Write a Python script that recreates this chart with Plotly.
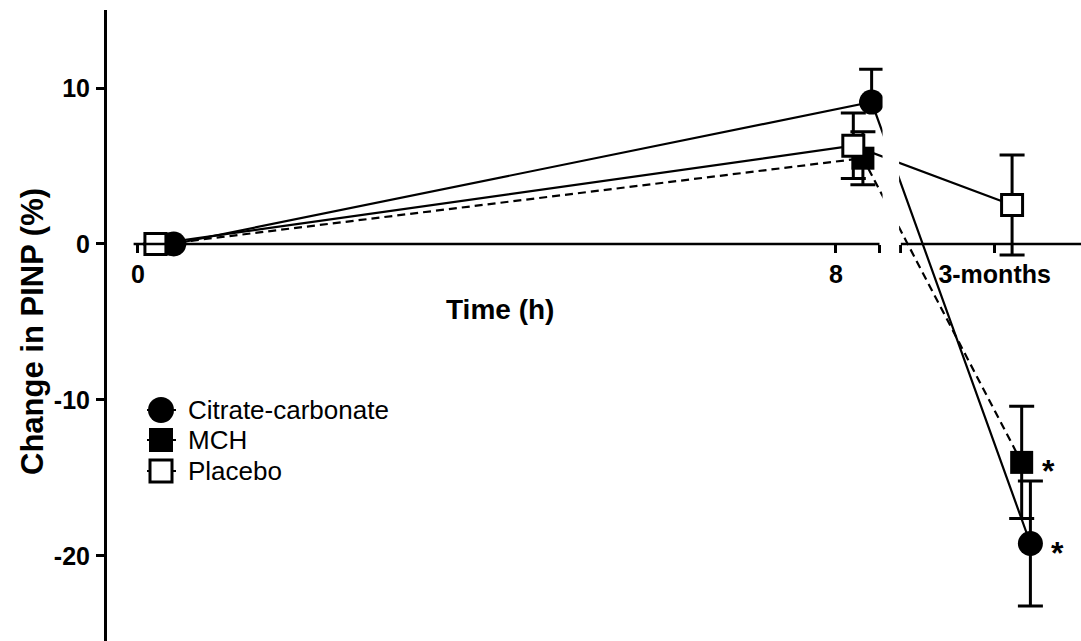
import plotly.graph_objects as go

# Time points (two axis segments: hours, then a separate 3-month visit)
time_labels = ["0", "8", "3-months"]
time_pos = [0, 8, 9.82]

# Mean change in PINP (%) with upper / lower error for each group
citrate = [0, 9.1, -19.2]
citrate_err_up = [0, 2.1, 4.0]
citrate_err_down = [0, 0, 4.0]
mch = [0, 5.5, -14.0]
mch_err_up = [0, 1.7, 3.6]
mch_err_down = [0, 1.7, 3.6]
placebo = [0, 6.3, 2.5]
placebo_err_up = [0, 2.1, 3.2]
placebo_err_down = [0, 2.1, 3.2]

# Groups flagged as significant at each time point
significant = {"MCH": [False, False, True], "Citrate-carbonate": [False, False, True]}

W, H = 1081, 641
ML, MR, MT, MB = 107, 0, 10, 0
X_RANGE = [-0.355, 10.81]
Y_RANGE = [-25.45, 15]
BREAK = [8.5, 8.745]
FONT = "Arial, Liberation Sans, sans-serif"


def px_to_paper(px, py):
    return (px - ML) / (W - ML - MR), (H - MB - py) / (H - MT - MB)


series = [
    dict(name="MCH", y=mch, up=mch_err_up, down=mch_err_down, off=0.31, symbol="square",
         size=23, fill="black", mline=0, dash="8px,5px"),
    dict(name="Citrate-carbonate", y=citrate, up=citrate_err_up, down=citrate_err_down,
         off=0.41, symbol="circle", size=25, fill="black", mline=0, dash="solid"),
    dict(name="Placebo", y=placebo, up=placebo_err_up, down=placebo_err_down, off=0.20,
         symbol="square", size=21, fill="white", mline=3, dash="solid"),
]

fig = go.Figure()
annotations = []
for s in series:
    xs = [p + s["off"] for p in time_pos]
    fig.add_trace(go.Scatter(
        x=xs, y=s["y"], name=s["name"], mode="lines+markers", showlegend=False,
        line=dict(color="black", width=2.2, dash=s["dash"]),
        marker=dict(symbol=s["symbol"], size=s["size"], color=s["fill"],
                    line=dict(color="black", width=s["mline"])),
        error_y=dict(type="data", symmetric=False, array=s["up"], arrayminus=s["down"],
                     visible=True, color="black", thickness=3, width=12.5),
    ))
    for xv, yv, flag in zip(xs, s["y"], significant.get(s["name"], [])):
        if flag:
            annotations.append(dict(
                x=xv, y=yv, xref="x", yref="y", text="<b>*</b>", showarrow=False,
                xanchor="center", yanchor="middle", xshift=27, yshift=-9,
                font=dict(family=FONT, size=32, color="black")))

shapes = []
# gap across the plot at the axis break
shapes.append(dict(type="rect", xref="x", yref="paper", x0=8.535, x1=8.725, y0=0, y1=1,
                   fillcolor="white", line=dict(width=0), layer="above"))
# broken x-axis line at y = 0
for x0, x1 in [(-0.05, BREAK[0]), (BREAK[1], X_RANGE[1])]:
    shapes.append(dict(type="line", xref="x", yref="y", x0=x0, x1=x1, y0=0, y1=0,
                       line=dict(color="black", width=2.5), layer="above"))

# legend: symbol with a short line through it, followed by the label
legend_rows = [("Citrate-carbonate", "circle", "black", 410),
               ("MCH", "square", "black", 440),
               ("Placebo", "square", "white", 471)]
sym_cx = 161
for label, sym, fill, cy in legend_rows:
    lx0, ly = px_to_paper(147, cy)
    lx1, _ = px_to_paper(176, cy)
    shapes.append(dict(type="line", xref="paper", yref="paper", x0=lx0, x1=lx1, y0=ly, y1=ly,
                       line=dict(color="black", width=2), layer="above"))
    half = 13 if sym == "circle" else 12
    if fill == "white":
        half = 11
    x0, y0 = px_to_paper(sym_cx - half, cy + half)
    x1, y1 = px_to_paper(sym_cx + half, cy - half)
    shapes.append(dict(type="circle" if sym == "circle" else "rect", xref="paper", yref="paper",
                       x0=x0, x1=x1, y0=y0, y1=y1, fillcolor=fill,
                       line=dict(color="black", width=3 if fill == "white" else 0),
                       layer="above"))
    tx, ty = px_to_paper(186, cy)
    annotations.append(dict(x=tx, y=ty, xref="paper", yref="paper", text=label,
                            showarrow=False, xanchor="left", yanchor="middle",
                            font=dict(family=FONT, size=26, color="black")))

# axis titles
tx, ty = px_to_paper(500, 309)
annotations.append(dict(x=tx, y=ty, xref="paper", yref="paper", text="<b>Time (h)</b>",
                        showarrow=False, xanchor="center", yanchor="middle",
                        font=dict(family=FONT, size=28, color="black")))
tx, ty = px_to_paper(33, 332)
annotations.append(dict(x=tx, y=ty, xref="paper", yref="paper", text="<b>Change in PINP (%)</b>",
                        showarrow=False, xanchor="center", yanchor="middle", textangle=-90,
                        font=dict(family=FONT, size=31, color="black")))

x_axis_pos = (0 - Y_RANGE[0]) / (Y_RANGE[1] - Y_RANGE[0])

fig.update_layout(
    width=W, height=H, margin=dict(l=ML, r=MR, t=MT, b=MB),
    paper_bgcolor="white", plot_bgcolor="white", showlegend=False,
    shapes=shapes, annotations=annotations,
    xaxis=dict(range=X_RANGE, anchor="free", position=x_axis_pos, showline=False,
               showgrid=False, zeroline=False,
               tickvals=[time_pos[0], time_pos[1], BREAK[0], BREAK[1], time_pos[2]],
               ticktext=[time_labels[0], time_labels[1], "", "", time_labels[2]],
               ticks="outside", ticklen=8, tickwidth=2.5, tickcolor="black",
               tickfont=dict(family=FONT, size=25, color="black", weight="bold")),
    yaxis=dict(range=Y_RANGE, showline=True, linewidth=3, linecolor="black",
               showgrid=False, zeroline=False,
               tickvals=[-20, -10, 0, 10], ticktext=["-20", "-10", "0", "10"],
               ticks="outside", ticklen=8, tickwidth=3, tickcolor="black",
               ticklabelstandoff=1,
               tickfont=dict(family=FONT, size=25, color="black", weight="bold")),
)

fig.write_html("out.html")
